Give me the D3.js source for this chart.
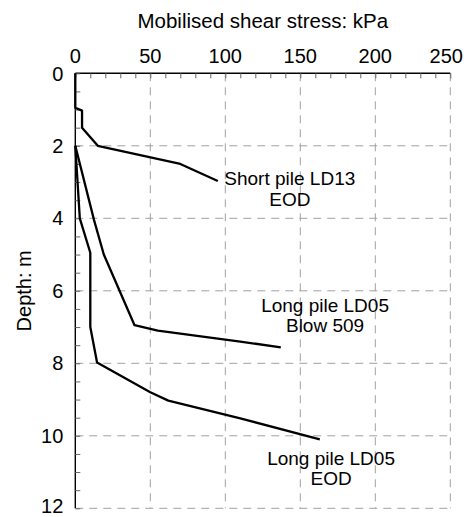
<!DOCTYPE html>
<html>
<head>
<meta charset="utf-8">
<script src="https://cdn.jsdelivr.net/npm/d3@7"></script>
<style>
  html, body { margin: 0; padding: 0; background: #fff; }
  svg { display: block; font-family: "Liberation Sans", Arial, sans-serif; }
</style>
</head>
<body>
<svg id="chart" width="464" height="517"></svg>
<script>
// Mobilised shear stress (kPa) against depth (m) for each pile record
const shortPileLD13 = [[0, 0], [0, 0.95], [4.5, 1.03], [4.5, 1.5], [15, 2.0], [70, 2.5], [95, 2.97]];
const longPileBlow509 = [[0, 2.0], [12.5, 4.05], [19, 5.0], [39.5, 6.95], [55, 7.1], [110, 7.4], [137, 7.56]];
const longPileEOD = [[0, 2.0], [3, 4.0], [10, 4.95], [10, 7.0], [14.5, 7.98], [50, 8.8], [62, 9.03], [110, 9.52], [163, 10.1]];

const seriesLabels = [
  ["Short pile LD13", "EOD"],
  ["Long pile LD05", "Blow 509"],
  ["Long pile LD05", "EOD"]
];

const xTicks = [0, 50, 100, 150, 200, 250];
const yTicks = [0, 2, 4, 6, 8, 10, 12];
const xTitle = "Mobilised shear stress: kPa";
const yTitle = "Depth: m";

const svg = d3.select("#chart");
const margin = { left: 75.3, top: 73.3, right: 464 - 450.3, bottom: 517 - 508.3 };
const W = 464 - margin.left - margin.right;
const H = 517 - margin.top - margin.bottom;

const x = d3.scaleLinear().domain([0, 250]).range([0, W]);
const y = d3.scaleLinear().domain([0, 12]).range([0, H]);

const g = svg.append("g").attr("transform", `translate(${margin.left},${margin.top})`);

// dashed grid at the major ticks
const grid = g.append("g").attr("stroke", "#a0a0a0").attr("stroke-width", 1).attr("stroke-dasharray", "8,6");
grid.selectAll("line.v").data(xTicks.filter(d => d > 0)).join("line")
  .attr("x1", d => x(d)).attr("x2", d => x(d)).attr("y1", 0).attr("y2", H);
grid.selectAll("line.h").data(yTicks.filter(d => d > 0)).join("line")
  .attr("x1", 0).attr("x2", W).attr("y1", d => y(d)).attr("y2", d => y(d));

// top axis with inward ticks
const xAxis = d3.axisTop(x).tickValues(d3.range(0, 251, 10)).tickSize(-5).tickFormat("");
const gx = g.append("g").call(xAxis);
gx.select(".domain").attr("stroke", "#000").attr("stroke-width", 1.4).attr("d", `M0,0H${W}`);
gx.selectAll(".tick line").attr("stroke", "#666").attr("stroke-width", 1);
// the last label is kept inside the page edge
g.append("g").selectAll("text").data(xTicks).join("text")
  .attr("x", d => d === 250 ? 463 - margin.left : x(d)).attr("y", -10)
  .attr("text-anchor", d => d === 250 ? "end" : "middle")
  .attr("font-size", 20).attr("fill", "#000")
  .text(d => d);

// left axis with inward ticks
const yAxis = d3.axisLeft(y).tickValues(d3.range(0, 12.01, 0.5)).tickSize(-5).tickFormat("");
const gy = g.append("g").call(yAxis);
gy.select(".domain").attr("stroke", "#000").attr("stroke-width", 1.4).attr("d", `M0,0V${H}`);
gy.selectAll(".tick line").attr("stroke", "#666").attr("stroke-width", 1);
// the bottom label is lifted so it stays on the page
g.append("g").selectAll("text").data(yTicks).join("text")
  .attr("x", -12).attr("y", d => d === 12 ? y(d) - 2 : y(d)).attr("dy", "0.36em")
  .attr("text-anchor", "end").attr("font-size", 20).attr("fill", "#000")
  .text(d => d);

// axis titles
svg.append("text")
  .attr("x", margin.left + W / 2).attr("y", 28)
  .attr("text-anchor", "middle").attr("font-size", 20.5).attr("fill", "#000")
  .text(xTitle);
svg.append("text")
  .attr("transform", `translate(31,${margin.top + H / 2}) rotate(-90)`)
  .attr("text-anchor", "middle").attr("font-size", 20).attr("fill", "#000")
  .text(yTitle);

// profiles
const line = d3.line().x(d => x(d[0])).y(d => y(d[1]));
[shortPileLD13, longPileBlow509, longPileEOD].forEach(s => {
  g.append("path").datum(s).attr("d", line)
    .attr("fill", "none").attr("stroke", "#000").attr("stroke-width", 2.3)
    .attr("stroke-linejoin", "round");
});

// series labels, anchored in data units
const labelAnchors = [[143, 3.09], [166.5, 6.58], [170.5, 10.8]];
seriesLabels.forEach((lines, i) => {
  const t = g.append("text")
    .attr("x", x(labelAnchors[i][0])).attr("y", y(labelAnchors[i][1]))
    .attr("text-anchor", "middle").attr("font-size", 19).attr("fill", "#000");
  lines.forEach((s, j) => {
    t.append("tspan").attr("x", x(labelAnchors[i][0])).attr("dy", j === 0 ? 0 : 20.5).text(s);
  });
});
</script>
</body>
</html>
